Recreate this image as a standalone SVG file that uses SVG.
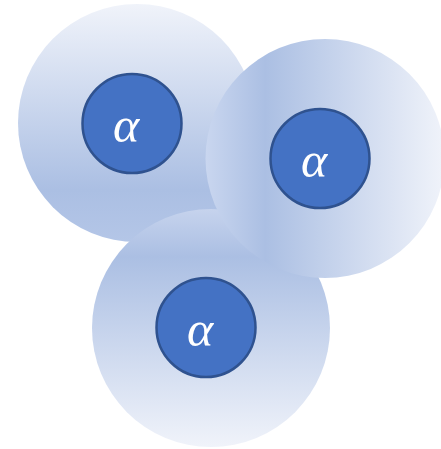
<svg xmlns="http://www.w3.org/2000/svg" width="441" height="449" viewBox="0 0 441 449">
<style>
.core{fill:#4472c4;stroke:#2f528f;stroke-width:2.5}
.lbl{font-family:"Liberation Serif","DejaVu Serif",serif;font-style:italic;font-size:50px;fill:#ffffff;text-anchor:middle}
</style>
<defs>
<linearGradient id="gUp" x1="0" y1="1" x2="0" y2="0">
<stop offset="0" stop-color="#b4c6e7"/>
<stop offset="0.22" stop-color="#abbfe3"/>
<stop offset="1" stop-color="#f0f3fa"/>
</linearGradient>
<linearGradient id="gDown" x1="0" y1="0" x2="0" y2="1">
<stop offset="0" stop-color="#c6d3ed"/>
<stop offset="0.2" stop-color="#abbfe3"/>
<stop offset="1" stop-color="#f0f3fa"/>
</linearGradient>
<linearGradient id="gRight" x1="0" y1="0" x2="1" y2="0">
<stop offset="0" stop-color="#c9d6ef"/>
<stop offset="0.25" stop-color="#abbfe3"/>
<stop offset="1" stop-color="#f0f3fa"/>
</linearGradient>
</defs>
<g id="node1-halo"><circle cx="137" cy="123" r="119" fill="url(#gUp)"/></g>
<g id="node3-halo"><circle cx="211" cy="328" r="119" fill="url(#gDown)"/></g>
<g id="node2-halo"><circle cx="325" cy="158.5" r="119.5" fill="url(#gRight)"/></g>
<g id="node1">
<circle class="core" cx="132" cy="123.5" r="49.5"/>
<text class="lbl" x="126" y="142">α</text>
</g>
<g id="node2">
<circle class="core" cx="320" cy="158.5" r="49.5"/>
<text class="lbl" x="314" y="177">α</text>
</g>
<g id="node3">
<circle class="core" cx="206" cy="327.5" r="49.5"/>
<text class="lbl" x="200" y="346">α</text>
</g>
<g id="connectors"/>
</svg>
